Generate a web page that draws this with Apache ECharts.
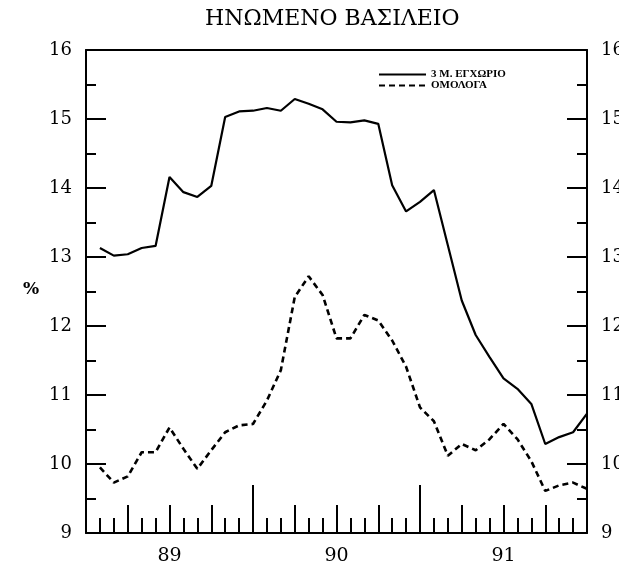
<!DOCTYPE html>
<html>
<head>
<meta charset="utf-8">
<script src="https://cdn.jsdelivr.net/npm/echarts@6/dist/echarts.min.js"></script>
<style>html,body{margin:0;padding:0;background:#fff;overflow:hidden;}#c{width:619px;height:570px;}</style>
</head>
<body>
<div id="c"></div>
<script>
// month index (end of month, 0 = start of 1989)
var months = [1,2,3,4,5,6,7,8,9,10,11,12,13,14,15,16,17,18,19,20,21,22,23,24,25,26,27,28,29,30,31,32,33,34,35,36];
var deposit3m = [13.13,13.02,13.04,13.13,13.16,14.16,13.94,13.87,14.03,15.03,15.11,15.12,15.16,15.12,15.29,15.22,15.14,14.96,14.95,14.98,14.93,14.04,13.66,13.80,13.97,13.17,12.37,11.87,11.55,11.24,11.09,10.87,10.29,10.39,10.46,10.73];
var bonds = [9.95,9.73,9.82,10.17,10.17,10.53,10.22,9.93,10.20,10.46,10.56,10.58,10.92,11.36,12.42,12.72,12.45,11.82,11.82,12.16,12.08,11.79,11.41,10.82,10.62,10.12,10.29,10.20,10.36,10.58,10.36,10.04,9.61,9.69,9.73,9.64];
var yearLabels = ['89','90','91'];
var seriesNames = ['3 Μ. ΕΓΧΩΡΙΟ','ΟΜΟΛΟΓΑ'];
var titleText = 'ΗΝΩΜΕΝΟ ΒΑΣΙΛΕΙΟ';

var FONT = 'DejaVu Serif';
var chart = echarts.init(document.getElementById('c'));
function pairs(ys){ return months.map(function(m,i){ return [m, ys[i]]; }); }
function xAx(interval, tickLen, extra){
  var a = {type:'value', min:0, max:36, interval:interval, position:'bottom',
    axisLine:{show:false, onZero:false}, axisTick:{show:true, inside:true, length:tickLen, lineStyle:{color:'#000', width:2}},
    axisLabel:{show:false}, splitLine:{show:false}};
  for (var k in extra) a[k] = extra[k];
  return a;
}
function yAx(pos){
  return {type:'value', min:9, max:16, interval:1, position:pos,
    axisLine:{show:true, onZero:false, lineStyle:{color:'#000', width:2}},
    axisTick:{show:true, inside:true, length:20, lineStyle:{color:'#000', width:2}},
    minorTick:{show:true, splitNumber:2, length:10, lineStyle:{color:'#000', width:2}},
    axisLabel:{show:true, color:'#000', fontFamily:FONT, fontSize:18, margin:14},
    splitLine:{show:false}, minorSplitLine:{show:false}};
}
chart.setOption({
  animation:false,
  backgroundColor:'#fff',
  title:{text:titleText, left:205, top:8, padding:0, textStyle:{fontFamily:FONT, fontSize:22, fontWeight:'normal', color:'#000'}},
  legend:{orient:'vertical', left:378, top:69, itemWidth:47, itemHeight:8, itemGap:0, padding:0,
    itemStyle:{color:'rgba(0,0,0,0)', borderColor:'rgba(0,0,0,0)', borderWidth:0},
    textStyle:{fontFamily:'Liberation Serif', fontSize:11, fontWeight:'bold', color:'#000'}, data:seriesNames},
  graphic:[{type:'text', left:23, top:281, style:{text:'%', font:'bold 17px "DejaVu Serif"', fill:'#000'}}],
  grid:{left:86, right:32, top:50, bottom:37, containLabel:false, outerBoundsMode:'none'},
  xAxis:[
    xAx(1, 15, {axisLine:{show:true, onZero:false, lineStyle:{color:'#000', width:2}}}),
    xAx(3, 28, {}),
    xAx(12, 48, {}),
    xAx(6, 0, {axisTick:{show:false}, axisLabel:{show:true, margin:14, color:'#000', fontFamily:FONT, fontSize:19,
      formatter:function(v){ return (v % 12 === 6) ? yearLabels[(v-6)/12] : ''; }}}),
    xAx(36, 0, {position:'top', axisTick:{show:false}, axisLine:{show:true, onZero:false, lineStyle:{color:'#000', width:2}}})
  ],
  yAxis:[ yAx('left'), yAx('right') ],
  series:[
    {name:seriesNames[0], type:'line', data:pairs(deposit3m), xAxisIndex:0, yAxisIndex:0, symbol:'none',
      lineStyle:{color:'#000', width:2.2, type:'solid'}, itemStyle:{color:'#000'}},
    {name:seriesNames[1], type:'line', data:pairs(bonds), xAxisIndex:0, yAxisIndex:0, symbol:'none',
      lineStyle:{color:'#000', width:2.6, type:[6,4]}, itemStyle:{color:'#000'}}
  ]
});
</script>
</body>
</html>
